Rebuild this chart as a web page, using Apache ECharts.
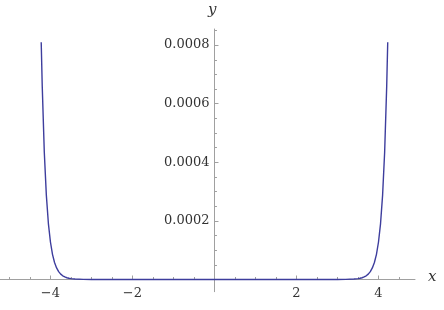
<!DOCTYPE html>
<html>
<head>
<meta charset="utf-8">
<script src="https://cdn.jsdelivr.net/npm/echarts@6/dist/echarts.min.js"></script>
<style>
html,body{margin:0;padding:0;background:#fff;}
#chart{width:444px;height:310px;}
</style>
</head>
<body>
<div id="chart"></div>
<script>
// Curve samples
const xValues = [-4.225,-4.2,-4.15,-4.1,-4.05,-4,-3.95,-3.9,-3.85,-3.8,-3.75,-3.7,-3.65,-3.6,-3.55,-3.5,-3.45,-3.4,-3.2,-3,-2.5,-2,-1,0,1,2,2.5,3,3.2,3.4,3.45,3.5,3.55,3.6,3.65,3.7,3.75,3.8,3.85,3.9,3.95,4,4.05,4.1,4.15,4.2,4.225];
const yValues = [0.00081,0.00066,0.000435,0.000288,0.000191,0.000128,0.000086,0.000058,0.0000395,0.0000269,0.0000184,0.0000127,0.0000088,0.0000061,0.0000043,0.000003,0.0000021,0.0000015,0.0000004,0.00000012,0,0,0,0,0,0,0,0.00000012,0.0000004,0.0000015,0.0000021,0.000003,0.0000043,0.0000061,0.0000088,0.0000127,0.0000184,0.0000269,0.0000395,0.000058,0.000086,0.000128,0.000191,0.000288,0.000435,0.00066,0.00081];
const xTickLabels = [-4,-2,2,4];
const xMinorTicks = [-5,-4.5,-3.5,-3,-2.5,-1.5,-1,-0.5,0.5,1,1.5,2.5,3,3.5,4.5];
const yTickLabels = [0.0002,0.0004,0.0006,0.0008];
const yMinorTicks = [0.00005,0.0001,0.00015,0.00025,0.0003,0.00035,0.00045,0.0005,0.00055,0.00065,0.0007,0.00075,0.00085];

const X_MIN = -5.23, X_MAX = 4.89, Y_MIN = -0.0000416, Y_MAX = 0.000855;
const GRID_LEFT = 0, GRID_RIGHT = 29, GRID_TOP = 29, GRID_BOTTOM = 18.3, CHART_W = 444, CHART_H = 310;
const gridW = CHART_W - GRID_LEFT - GRID_RIGHT;
const gridH = CHART_H - GRID_TOP - GRID_BOTTOM;
const yAxisOffset = -((0 - X_MIN) / (X_MAX - X_MIN)) * gridW;
const xAxisOffset = -((0 - Y_MIN) / (Y_MAX - Y_MIN)) * gridH;
const axisColor = '#a0a0a0';
const textColor = '#333';
const fontFam = 'DejaVu Serif';

const chart = echarts.init(document.getElementById('chart'), null, {renderer:'canvas'});
const data = xValues.map((x,i)=>[x,yValues[i]]);

chart.setOption({
  animation:false,
  backgroundColor:'#fff',
  grid:{left:GRID_LEFT,right:GRID_RIGHT,top:GRID_TOP,bottom:GRID_BOTTOM,containLabel:false,outerBoundsMode:'none'},
  xAxis:[{
    type:'value',min:X_MIN,max:X_MAX,position:'bottom',offset:xAxisOffset,
    axisLine:{show:true,onZero:false,lineStyle:{color:axisColor,width:1}},
    axisTick:{show:true,inside:true,length:4,customValues:xTickLabels,lineStyle:{color:axisColor}},
    axisLabel:{show:true,customValues:xTickLabels,margin:8,color:textColor,fontFamily:fontFam,fontSize:13,
      formatter:v=> v<0 ? '\u2212'+(-v) : String(v)},
    splitLine:{show:false}
  },{
    type:'value',min:X_MIN,max:X_MAX,position:'bottom',offset:xAxisOffset,
    axisLine:{show:false,onZero:false},
    axisTick:{show:true,inside:true,length:2.5,customValues:xMinorTicks,lineStyle:{color:axisColor}},
    axisLabel:{show:false},splitLine:{show:false}
  }],
  yAxis:[{
    type:'value',min:Y_MIN,max:Y_MAX,position:'left',offset:yAxisOffset,
    axisLine:{show:true,onZero:false,lineStyle:{color:axisColor,width:1}},
    axisTick:{show:true,inside:true,length:4,customValues:yTickLabels,lineStyle:{color:axisColor}},
    axisLabel:{show:true,customValues:yTickLabels,margin:5,color:textColor,fontFamily:fontFam,fontSize:13,
      formatter:v=> Number(v).toFixed(4)},
    splitLine:{show:false}
  },{
    type:'value',min:Y_MIN,max:Y_MAX,position:'left',offset:yAxisOffset,
    axisLine:{show:false,onZero:false},
    axisTick:{show:true,inside:true,length:2.5,customValues:yMinorTicks,lineStyle:{color:axisColor}},
    axisLabel:{show:false},splitLine:{show:false}
  }],
  graphic:[
    {type:'text',left:208,top:3,style:{text:'y',fill:textColor,font:'italic 15px "DejaVu Serif"'}},
    {type:'text',left:428,top:270,style:{text:'x',fill:textColor,font:'italic 15px "DejaVu Serif"'}}
  ],
  series:[{
    type:'line',xAxisIndex:0,yAxisIndex:0,data:data,showSymbol:false,symbol:'none',
    lineStyle:{color:'#3d3d9d',width:1.4},clip:true
  }]
});
</script>
</body>
</html>
